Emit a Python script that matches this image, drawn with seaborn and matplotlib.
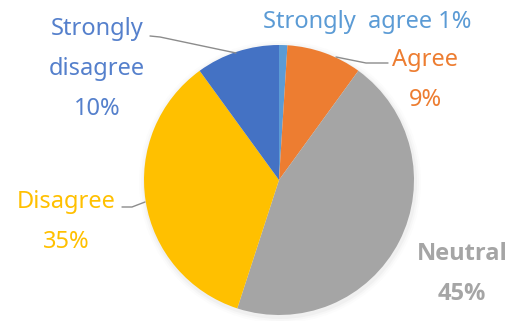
import matplotlib
matplotlib.use("Agg")
import matplotlib.pyplot as plt
import seaborn as sns
from matplotlib.patches import Circle

# Survey response shares, clockwise from the top
categories = ["Strongly agree", "Agree", "Neutral", "Disagree", "Strongly disagree"]
shares = [1, 9, 45, 35, 10]
label_texts = ["Strongly  agree 1%", "Agree\n9%", "Neutral\n45%", "Disagree\n35%",
               "Strongly\ndisagree\n10%"]

sns.set_theme(style="white")
plt.rcParams["font.family"] = ["Noto Sans", "DejaVu Sans"]

slice_colors = sns.color_palette(["#5B9BD5", "#ED7D31", "#A5A5A5", "#FFC000", "#4472C4"])
text_colors = ["#5B9BD5", "#ED7D31", "#A5A5A5", "#FFC000", "#5580CC"]

W, H = 516, 321
fig = plt.figure(figsize=(W / 100, H / 100), dpi=100)
ax = fig.add_axes([0, 0, 1, 1])

cx, cy, r = 279, H - 180, 135

# soft drop shadow under the pie
for k, a in [(6, 0.025), (4, 0.035), (2, 0.05)]:
    ax.add_patch(Circle((cx + 1, cy - 2), r + k, color="#808080", alpha=a, lw=0, zorder=0))

ax.pie(shares, colors=slice_colors, startangle=90, counterclock=False,
       center=(cx, cy), radius=r, frame=True,
       wedgeprops=dict(linewidth=0, zorder=1))
ax.set_xlim(0, W)
ax.set_ylim(0, H)
ax.set_aspect("equal")
ax.axis("off")

# label placement (pixel coordinates from the top-left corner)
label_pos = [(367, 22), (425, 80), (462, 274), (66, 222), (97, 69)]
families = [["Noto Sans"], ["Noto Sans"], ["Open Sans", "Noto Sans"], ["Noto Sans"], ["Noto Sans"]]
weights = ["normal", "normal", "bold", "normal", "normal"]
for txt, (x, y), c, fam, w in zip(label_texts, label_pos, text_colors, families, weights):
    ax.text(x, H - y, txt, ha="center", va="center", fontsize=17, color=c,
            linespacing=1.9, family=fam, fontweight=w, zorder=3)

# leader lines
leaders = [
    [(336, 57), (366, 63), (388, 63)],
    [(122, 207), (132, 207), (145, 202)],
    [(150, 36), (160, 37), (236, 53)],
]
for pts in leaders:
    xs = [p[0] for p in pts]
    ys = [H - p[1] for p in pts]
    ax.plot(xs, ys, color="#8c8c8c", lw=1.0, zorder=2)

fig.savefig("out.png", dpi=100, facecolor="white")
